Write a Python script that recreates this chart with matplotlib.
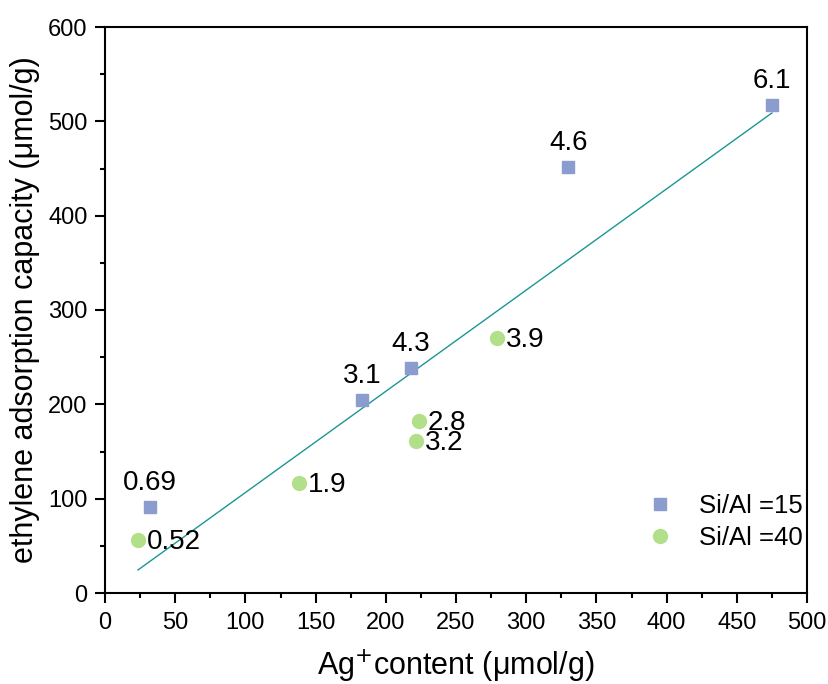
import matplotlib
matplotlib.use("Agg")
import matplotlib.pyplot as plt
from matplotlib.ticker import MultipleLocator

plt.rcParams['font.family'] = ['Liberation Sans', 'DejaVu Sans']

# Si/Al = 15 samples
ag15 = [32, 183, 218, 330, 475]
cap15 = [91, 205, 238.5, 451.5, 517]
lab15 = ["0.69", "3.1", "4.3", "4.6", "6.1"]

# Si/Al = 40 samples
ag40 = [23.5, 138, 221.5, 223.5, 279]
cap40 = [56, 116.5, 161, 182, 270]
lab40 = ["0.52", "1.9", "3.2", "2.8", "3.9"]

# linear trend line
fit_slope = 1.073
fit_intercept = -0.8
fit_range = [23.5, 475]

blue = "#8b9dcf"
green = "#b2e08a"
teal = "#1a9696"

fig = plt.figure(figsize=(8.29, 6.84), dpi=100)
ax = fig.add_axes([105 / 829, 1 - 593 / 684, 702 / 829, 566 / 684])

ax.plot(fit_range, [fit_slope * x + fit_intercept for x in fit_range],
        color=teal, lw=1.0, zorder=2)
ax.plot(ag15, cap15, ls="none", marker="s", ms=9, color=blue,
        label="Si/Al =15", zorder=3)
ax.plot(ag40, cap40, ls="none", marker="o", ms=10, color=green,
        label="Si/Al =40", zorder=3)

for x, y, t in zip(ag15, cap15, lab15):
    ax.annotate(t, (x, y), xytext=(0, 8), textcoords="offset points",
                ha="center", va="bottom", fontsize=20)
for x, y, t in zip(ag40, cap40, lab40):
    ax.annotate(t, (x, y), xytext=(6.5, -1.5), textcoords="offset points",
                ha="left", va="center", fontsize=20)

ax.set_xlim(0, 500)
ax.set_ylim(0, 600)
ax.xaxis.set_major_locator(MultipleLocator(50))
ax.xaxis.set_minor_locator(MultipleLocator(25))
ax.yaxis.set_major_locator(MultipleLocator(100))
ax.yaxis.set_minor_locator(MultipleLocator(50))
ax.tick_params(which="both", direction="out", top=False, right=False,
               width=1.5, labelsize=17)
ax.tick_params(which="major", length=7.5)
ax.tick_params(which="minor", length=3.8)
ax.tick_params(axis="x", which="major", pad=6)
ax.tick_params(axis="y", which="major", pad=5)
for s in ax.spines.values():
    s.set_linewidth(1.5)

ax.set_xlabel("Ag$^{+}$content (\u03bcmol/g)", fontsize=22, labelpad=10)
ax.set_ylabel("ethylene adsorption capacity (\u03bcmol/g)", fontsize=22, labelpad=6)

ax.legend(loc="lower right", bbox_to_anchor=(1.008, 0.058), frameon=False,
          fontsize=18.5, handletextpad=1.0, labelspacing=0.32,
          handlelength=1.0, borderaxespad=0.0)

fig.savefig("out.png", dpi=100)
